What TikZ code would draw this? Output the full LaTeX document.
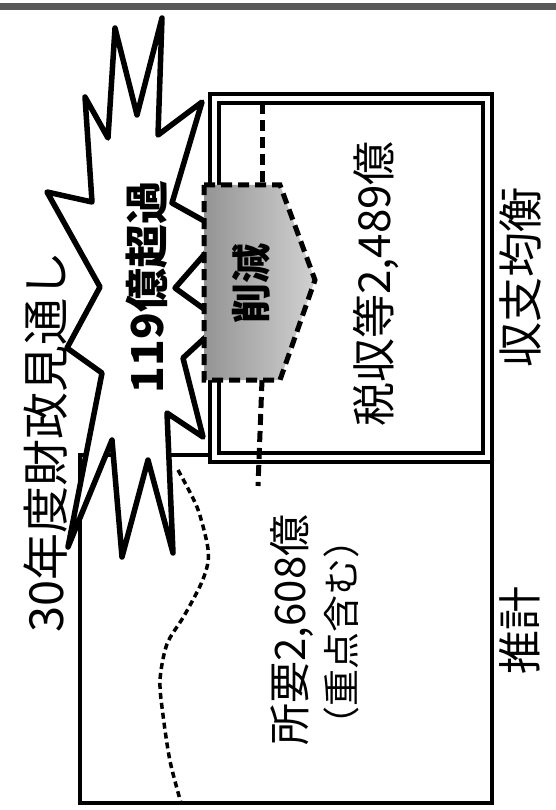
\documentclass[tikz,border=0pt]{standalone}
\usepackage{fontspec}
\newfontfamily\jp{Noto Sans CJK JP}
\begin{document}
\begin{tikzpicture}[x=1pt,y=-1pt,
  lbl/.style={font=\jp\fontsize{#1}{#1}\selectfont,rotate=90,inner sep=0pt},
  heavy/.style={font=\jp\bfseries\fontsize{#1}{#1}\selectfont,rotate=90,inner sep=0pt},
  burst/.style={draw=black,fill=white,line width=5.5pt,line join=round},
  dashline/.style={dash pattern=on 11pt off 6pt,line width=5pt},
  dotline/.style={dash pattern=on 6pt off 4pt,line width=3.5pt}]
\useasboundingbox (0,0) rectangle (556,810);
\fill[black!65] (0,3) rectangle (556,10);
% lower box and double box
\draw[line width=4pt] (210,455)--(80,455)--(80,803)--(492,803)--(492,462);
\draw[line width=3.5pt] (210,94) rectangle (492,462); \draw[line width=3.5pt] (219,103) rectangle (483,453);
% cut line
\draw[dashline] (262,103)--(262,185); \draw[dashline] (262,380)--(258,486);
\draw[dotline] plot[smooth] coordinates {(178,470) (197,507) (207,543) (208,562) (201,584) (184,616) (167,644) (160,680) (163,715) (170,761) (181,803)};
% starburst
\draw[burst] (85,97)--(108,138)--(115,28)--(137,115)--(162,18)--(158,135)--(202,102)--(172,203)--(224,232)--(175,288)--(222,322)--(183,358)--(203,437)--(167,413)--(173,553)--(148,460)--(122,557)--(112,440)--(68,547)--(102,373)--(67,348)--(100,287)--(47,192)--(92,202)--cycle;
% arrow
\shadedraw[left color=black!42,right color=black!18,draw=black,dashline] (204,185)--(280,185)--(315,280)--(280,380)--(204,380)--cycle;
\node[lbl=47,anchor=west] (plan) at (46,633) {30年度財政見通し};
\node[heavy=44] (over) at (147,287) {119億超過};
\node[heavy=40] (red) at (251,283) {削減};
\node[lbl=44] (tax) at (376,284) {税収等2,489億};
\node[lbl=42] (req) at (292,630) {所要2,608億};
\node[lbl=37] (reqnote) at (341,632) {（重点含む）};
\node[lbl=45] (bal) at (520,277) {収支均衡};
\node[lbl=44] (est) at (520,630) {推計};
\end{tikzpicture}
\end{document}
